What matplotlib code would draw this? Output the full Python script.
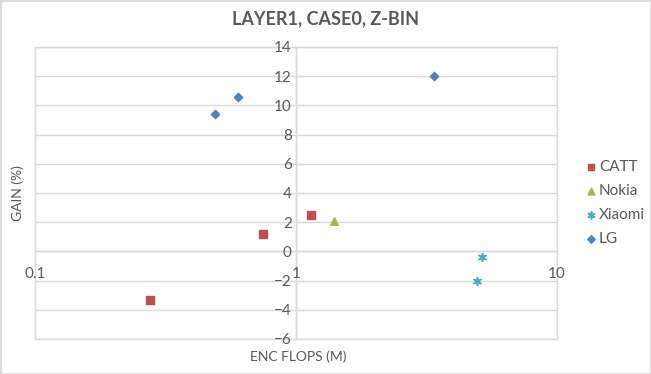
import matplotlib.pyplot as plt
from matplotlib.patches import Rectangle

# data
catt_x = [0.276, 0.746, 1.143]
catt_y = [-3.3, 1.2, 2.5]
nokia_x = [1.40]
nokia_y = [2.1]
xiaomi_x = [5.18, 4.95]
xiaomi_y = [-0.4, -2.0]
lg_x = [0.49, 0.60, 3.39]
lg_y = [9.4, 10.6, 12.0]

y_ticks = list(range(-6, 15, 2))
x_ticks = [0.1, 1, 10]
x_tick_labels = ['0.1', '1', '10']

plt.rcParams['font.family'] = ['Lato', 'DejaVu Sans']
txt = '#595959'
grid = '#D9D9D9'

fig = plt.figure(figsize=(6.51, 3.74), dpi=100)
ax = fig.add_axes([35/651, 35/374, (557-35)/651, (339-47)/374])

ax.scatter(catt_x, catt_y, marker='s', s=30, color='#C0504D', label='CATT', zorder=3)
ax.scatter(nokia_x, nokia_y, marker='^', s=30, color='#9BBB59', label='Nokia', zorder=3)
ax.scatter(xiaomi_x, xiaomi_y, marker=(6, 2, 0), s=30, color='#4BACC6', linewidths=1.2,
           label='Xiaomi', zorder=3)
ax.scatter(lg_x, lg_y, marker='D', s=18, color='#4F81BD', label='LG', zorder=3)

ax.set_xscale('log')
ax.set_xlim(0.1, 10)
ax.set_ylim(-6, 14)
ax.set_xticks(x_ticks)
ax.set_xticklabels(x_tick_labels)
ax.minorticks_off()
ax.set_yticks(y_ticks)

# axes cross at x=1 and y=0
ax.spines['left'].set_position(('data', 1))
ax.spines['bottom'].set_position(('data', 0))
for s in ax.spines.values():
    s.set_color(grid)
    s.set_linewidth(1)
    s.set_zorder(0.1)
ax.spines['top'].set_visible(False)
ax.spines['right'].set_visible(False)
ax.grid(True, color=grid, linewidth=1)
ax.set_axisbelow(True)
for v in [0.1, 10]:
    ax.axvline(v, color=grid, lw=1, clip_on=False, zorder=0)
for v in [-6, 14]:
    ax.axhline(v, color=grid, lw=1, clip_on=False, zorder=0)

ax.tick_params(length=0, colors=txt, labelsize=11)
ax.tick_params(axis='x', pad=11)
ax.tick_params(axis='y', pad=3)

fig.text(18/651, 1 - 193/374, 'GAIN (%)', rotation=90, ha='center', va='center',
         color=txt, fontsize=10)
fig.text(298/651, 1 - 357/374, 'ENC FLOPS (M)', ha='center', va='center',
         color=txt, fontsize=10)
fig.text(0.5, 1 - 19/374, 'LAYER1, CASE0, Z-BIN', ha='center', va='center',
         color=txt, fontsize=13, fontweight='bold')

fig.legend(loc='center left', bbox_to_anchor=(583/651, 1 - 203/374), frameon=False,
           fontsize=11, labelcolor=txt, handletextpad=0.05, labelspacing=0.65,
           handlelength=1.0, borderpad=0, borderaxespad=0, markerscale=0.9)

fig.patches.append(Rectangle((0, 0), 1, 1, transform=fig.transFigure, fill=False,
                             edgecolor=grid, linewidth=2))

fig.savefig('out.png', dpi=100)
